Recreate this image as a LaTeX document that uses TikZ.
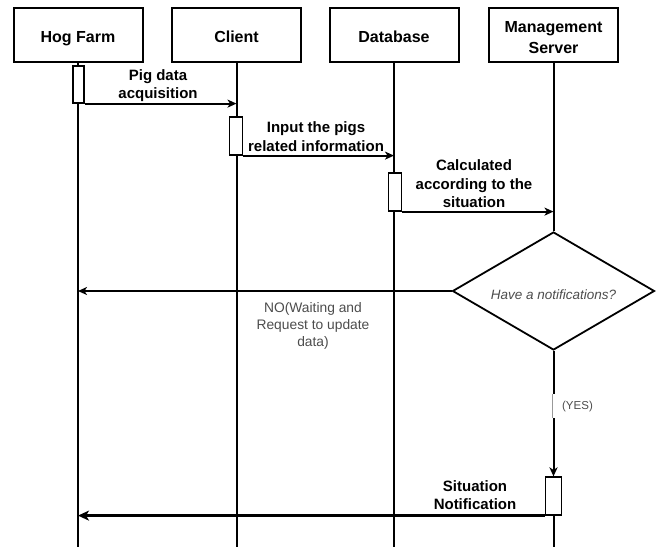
\documentclass[tikz,border=0pt]{standalone}
\usepackage{fontspec}
\setmainfont{Liberation Sans}
\usetikzlibrary{shapes.geometric,arrows.meta}

\begin{document}
\begin{tikzpicture}[x=1pt,y=-1pt,
  actor/.style={draw, line width=2pt, minimum width=129pt, minimum height=54pt,
    inner sep=0pt},
  actortext/.style={yshift=-3pt, inner sep=0pt, align=center,
    font=\bfseries\fontsize{16}{21}\selectfont},
  oneline/.style={actortext, text height=11.5pt, text depth=3.5pt},
  life/.style={line width=2pt},
  actbar/.style={draw, fill=white, line width=1.2pt, minimum width=13pt,
    minimum height=38pt, inner sep=0pt},
  msg/.style={line width=2pt, -{Stealth[length=9pt,width=8pt,inset=2.5pt]}},
  bigmsg/.style={line width=3pt, -{Stealth[length=11pt,width=10pt,inset=3pt]}},
  msglabel/.style={inner sep=0pt, align=center, font=\bfseries\fontsize{15}{18.5}\selectfont},
  decision/.style={diamond, draw, line width=1.8pt, minimum width=202pt,
    minimum height=118pt, aspect=1.7, inner sep=0pt},
  decisiontext/.style={yshift=-4pt, inner sep=0pt, text=black!70,
    font=\itshape\fontsize{13.5}{16}\selectfont},
  note/.style={inner sep=0pt, align=center, text=black!70,
    font=\fontsize{13.8}{17}\selectfont}]

\useasboundingbox (0,0) rectangle (657,547);
\coordinate (bottom) at (0,547);

% participants
\node[actor, label={[oneline]center:Hog Farm}]             (hog)    at (78,35)    {};
\node[actor, label={[oneline]center:Client}]               (client) at (236.5,35) {};
\node[actor, label={[oneline]center:Database}]             (db)     at (394,35)   {};
\node[actor, label={[actortext]center:Management\\Server}] (mgr)    at (553.5,35) {};

% decision on the server lifeline
\node[decision, label={[decisiontext]center:Have a notifications?}] (dec) at (553.5,291) {};

% lifelines
\draw[life] (hog.south)    -- (hog.south |- bottom);
\draw[life] (client.south) -- (client.south |- bottom);
\draw[life] (db.south)     -- (db.south |- bottom);
\draw[life] (mgr.south)    -- (dec.north);

% activation bars
\node[actbar, minimum width=11pt, minimum height=37pt] (hogbar) at (78.5,84.5) {};
\node[actbar] (clientbar) at (236,136) {};
\node[actbar] (dbbar)     at (395,192) {};
\node[actbar, minimum width=16pt] (mgrbar) at (553.5,496) {};

\draw[life] (mgrbar.south) -- (mgrbar.south |- bottom);

% messages
\draw[msg] (hogbar.south east) -- (hogbar.south east -| client.south);
\node[msglabel] (m1) at (158,85.5) {Pig data\\acquisition};

\draw[msg] (clientbar.south east) -- (clientbar.south east -| db.south);
\node[msglabel] (m2) at (316,136.5) {Input the pigs\\related information};

\draw[msg] (dbbar.south east) -- (dbbar.south east -| mgr.south);
\node[msglabel] (m3) at (474,184) {Calculated\\according to the\\situation};

\draw[msg] (dec.west) -- (dec.west -| hog.south);
\node[note] (no) at (313,326) {NO(Waiting and\\Request to update\\data)};

\draw[msg] (dec.south) -- (mgrbar.north);
\fill[white] (549,394) rectangle (558.5,418);
\draw[black!40, line width=0.6pt] (552,394) -- (552,418);
\node[note, font=\fontsize{11.5}{13}\selectfont] (yes) at (577.5,407) {(YES)};

\draw[bigmsg] (mgrbar.south west) -- (mgrbar.south west -| hog.south);
\node[msglabel] (m4) at (475,495) {Situation\\Notification};

\end{tikzpicture}
\end{document}
